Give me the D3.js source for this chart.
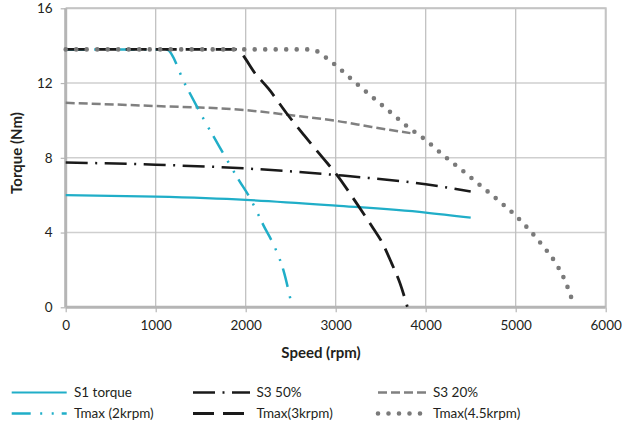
<!DOCTYPE html>
<html><head><meta charset="utf-8">
<script src="https://cdn.jsdelivr.net/npm/d3@7"></script>
<style>
html,body{margin:0;padding:0;background:#fff;}
svg text{font-family:Lato,"Open Sans",sans-serif;fill:#231f20;}
</style></head>
<body>
<svg id="c" width="622" height="429"></svg>
<script>
// ---- data ----
const xTicks = [0, 1000, 2000, 3000, 4000, 5000, 6000];
const yTicks = [0, 4, 8, 12, 16];
const xTitle = "Speed (rpm)";
const yTitle = "Torque (Nm)";

const s1Speed  = [0, 1000, 2000, 3000, 4000, 4500];
const s1Torque = [6.0, 5.92, 5.75, 5.44, 5.07, 4.8];

const s350Speed  = [0, 1000, 2000, 3000, 4000, 4500];
const s350Torque = [7.75, 7.63, 7.43, 7.08, 6.58, 6.2];

const s320Speed  = [0, 1000, 2000, 2600, 3000, 3400, 3830];
const s320Torque = [10.94, 10.77, 10.55, 10.22, 9.98, 9.65, 9.32];

const t2Speed  = [0, 1120, 1326, 1530, 1752, 1929, 2041, 2196, 2337, 2418, 2495];
const t2Torque = [13.8, 13.8, 11.94, 10.1, 8.23, 6.77, 5.91, 4.4, 3.06, 2.0, 0.48];

const t3Speed  = [0, 1880, 2121, 2251, 2456, 2648, 2862, 3000, 3233, 3418, 3511, 3622, 3715, 3796];
const t3Torque = [13.8, 13.8, 12.42, 11.71, 10.37, 9.21, 7.97, 7.17, 5.56, 4.22, 3.51, 2.35, 1.28, 0.03];

const t45Speed  = [0, 2700, 2815, 2907, 3000, 3200, 3400, 3600, 3800, 4000, 4200, 4400, 4600, 4800, 5000, 5150, 5300, 5440, 5550, 5630];
const t45Torque = [13.8, 13.8, 13.65, 13.3, 12.95, 12.1, 11.28, 10.47, 9.66, 8.95, 8.12, 7.35, 6.55, 5.75, 4.9, 4.15, 3.3, 2.4, 1.4, 0.35];

const seriesNames = ["S1 torque", "S3 50%", "S3 20%", "Tmax (2krpm)", "Tmax(3krpm)", "Tmax(4.5krpm)"];

// ---- styles ----
const styles = [
  {c:"#20aec8", w:2.2, dash:null, cap:"butt"},
  {c:"#1a1a1a", w:2.5, dash:"22 7.5 2 7.5", cap:"butt"},
  {c:"#808080", w:2.5, dash:"9 4", cap:"butt"},
  {c:"#20aec8", w:2.5, dash:"19 9.5 2 9.5 2 8", cap:"butt"},
  {c:"#1a1a1a", w:2.8, dash:"21 9", cap:"butt"},
  {c:"#7a7a7a", w:4.6, dash:"0 10.5", cap:"round"}
];

const series = [
  [s1Speed, s1Torque], [s350Speed, s350Torque], [s320Speed, s320Torque],
  [t2Speed, t2Torque], [t3Speed, t3Torque], [t45Speed, t45Torque]
].map(([xs, ys]) => xs.map((x, i) => [x, ys[i]]));

const svg = d3.select("#c");
const L = 65.7, R = 605.7, T = 8.3, B = 307.3;
const x = d3.scaleLinear().domain([0, 6000]).range([L, R]);
const y = d3.scaleLinear().domain([0, 16]).range([B, T]);

// grid
svg.append("g").selectAll("line").data(yTicks.filter(d => d > 0)).join("line")
  .attr("x1", L).attr("x2", R).attr("y1", d => y(d)).attr("y2", d => y(d))
  .attr("stroke", "#cfcfcf").attr("stroke-width", 1.5);
svg.append("g").selectAll("line").data(xTicks.filter(d => d > 0)).join("line")
  .attr("x1", d => x(d)).attr("x2", d => x(d)).attr("y1", T).attr("y2", B)
  .attr("stroke", "#bdbdbd").attr("stroke-width", 1.2);
// top/right frame
svg.append("path").attr("d", `M${L},${T}H${R}V${B}`).attr("fill", "none")
  .attr("stroke", "#c4c4c4").attr("stroke-width", 2);

// axes
const xAxis = d3.axisBottom(x).tickValues(xTicks).tickSize(5).tickPadding(8).tickFormat(d3.format("d"));
const yAxis = d3.axisLeft(y).tickValues(yTicks).tickSize(5).tickPadding(8);
const gx = svg.append("g").attr("transform", `translate(0,${B})`).call(xAxis);
const gy = svg.append("g").attr("transform", `translate(${L},0)`).call(yAxis);
[gx, gy].forEach(g => {
  g.select(".domain").attr("stroke", "#b5b5b5").attr("stroke-width", 3);
  g.selectAll(".tick line").attr("stroke", "#b5b5b5").attr("stroke-width", 1.2);
  g.selectAll(".tick text").attr("font-size", 13.5).attr("font-family", "Lato,'Open Sans',sans-serif").attr("fill", "#231f20");
});
gy.select(".domain").attr("d", `M0,${B}V${T}`);
gx.select(".domain").attr("d", `M${L},0H${R}`);

// titles
svg.append("text").attr("x", 321).attr("y", 358).attr("text-anchor", "middle")
  .attr("font-size", 15).attr("font-weight", "bold").text(xTitle);
svg.append("text").attr("transform", "translate(22,153) rotate(-90)").attr("text-anchor", "middle")
  .attr("font-size", 15).attr("font-weight", "bold").text(yTitle);

// lines
const line = d3.line().x(d => x(d[0])).y(d => y(d[1])).curve(d3.curveMonotoneX);
series.forEach((data, i) => {
  const s = styles[i];
  svg.append("path").datum(data).attr("d", line).attr("fill", "none")
    .attr("stroke", s.c).attr("stroke-width", s.w)
    .attr("stroke-dasharray", s.dash).attr("stroke-linecap", s.cap)
    .attr("stroke-linejoin", "round");
});

// legend
const colX = [11.7, 193, 378];
const swW = [55, 57, 50];
const txtX = [74, 256.5, 433];
const rowY = [392.5, 413.5];
seriesNames.forEach((name, i) => {
  const col = i % 3, row = Math.floor(i / 3);
  const s = styles[i];
  const g = svg.append("g");
  g.append("line").attr("x1", colX[col]).attr("x2", colX[col] + swW[col])
    .attr("y1", rowY[row]).attr("y2", rowY[row])
    .attr("stroke", s.c).attr("stroke-width", s.w)
    .attr("stroke-dasharray", s.dash).attr("stroke-linecap", s.cap);
  g.append("text").attr("x", txtX[col]).attr("y", rowY[row] + 4.5)
    .attr("font-size", 13.5).text(name);
});
</script>
</body></html>
